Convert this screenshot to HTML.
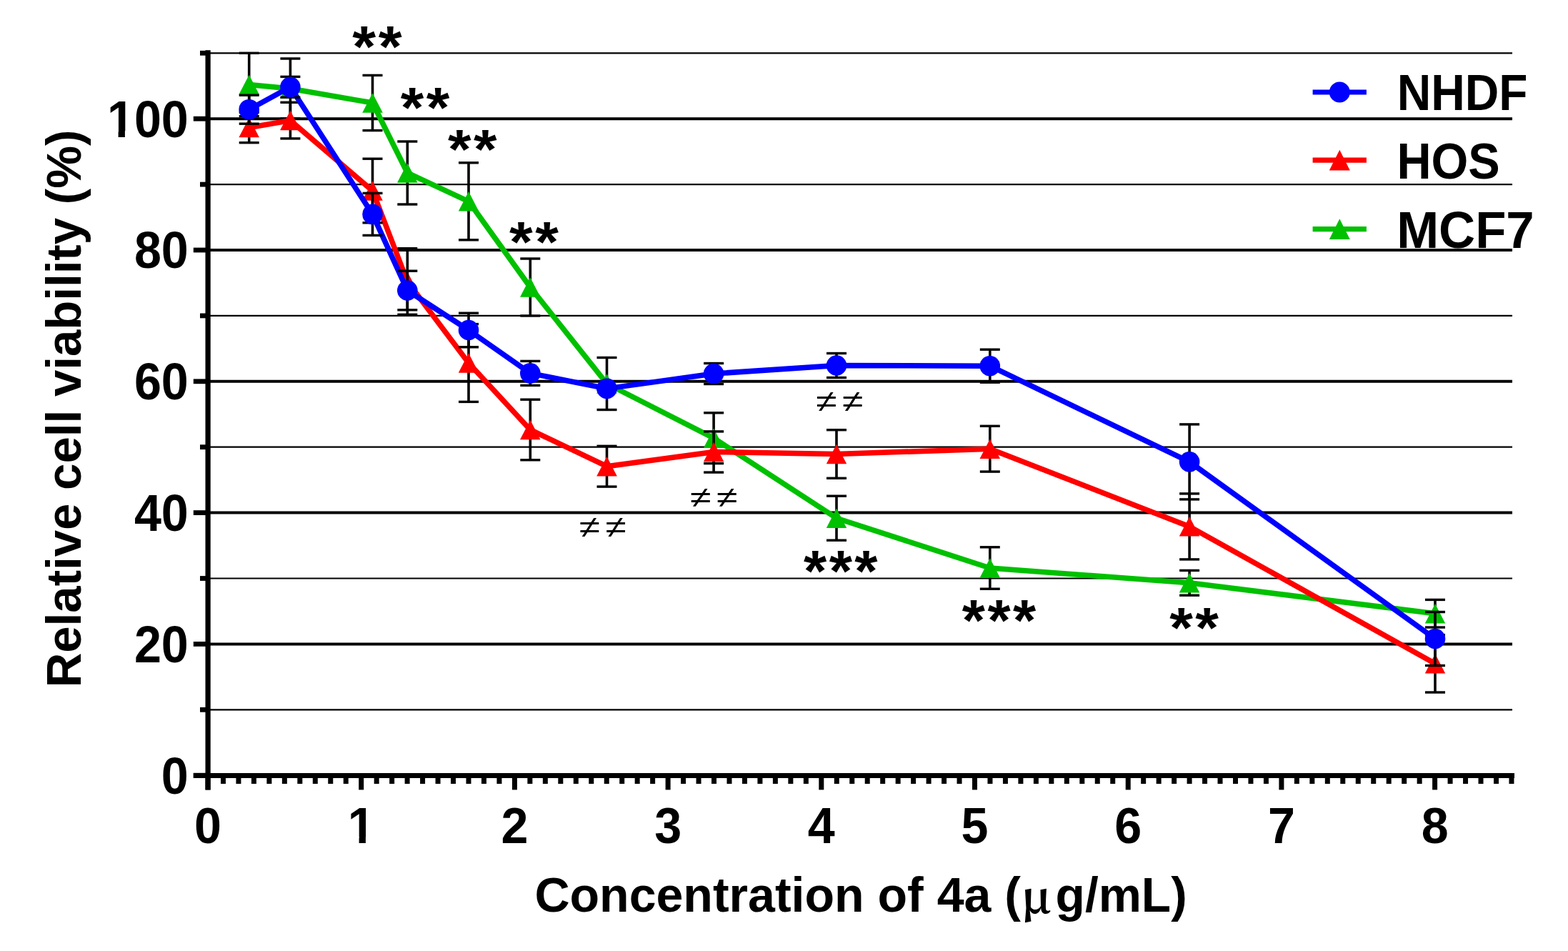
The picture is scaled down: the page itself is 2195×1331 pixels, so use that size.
<!DOCTYPE html>
<html><head><meta charset="utf-8"><title>Relative cell viability chart</title>
<style>html,body{margin:0;padding:0;background:#fff;} svg{display:block;}</style></head>
<body><svg width="2195" height="1331" viewBox="0 0 2195 1331">
<rect x="0" y="0" width="2195" height="1331" fill="#fff"/>
<line x1="291" y1="993.30" x2="2117" y2="993.30" stroke="#000" stroke-width="2.2"/>
<line x1="291" y1="901.40" x2="2117" y2="901.40" stroke="#000" stroke-width="4.0"/>
<line x1="291" y1="809.50" x2="2117" y2="809.50" stroke="#000" stroke-width="2.2"/>
<line x1="291" y1="717.60" x2="2117" y2="717.60" stroke="#000" stroke-width="4.0"/>
<line x1="291" y1="625.70" x2="2117" y2="625.70" stroke="#000" stroke-width="2.2"/>
<line x1="291" y1="533.80" x2="2117" y2="533.80" stroke="#000" stroke-width="4.0"/>
<line x1="291" y1="441.90" x2="2117" y2="441.90" stroke="#000" stroke-width="2.2"/>
<line x1="291" y1="350.00" x2="2117" y2="350.00" stroke="#000" stroke-width="4.0"/>
<line x1="291" y1="258.10" x2="2117" y2="258.10" stroke="#000" stroke-width="2.2"/>
<line x1="291" y1="166.20" x2="2117" y2="166.20" stroke="#000" stroke-width="4.0"/>
<line x1="291" y1="74.30" x2="2117" y2="74.30" stroke="#000" stroke-width="2.2"/>
<line x1="291.1" y1="70.2" x2="291.1" y2="1105.4" stroke="#000" stroke-width="7.2"/>
<line x1="270.8" y1="1085.4" x2="2120" y2="1085.4" stroke="#000" stroke-width="7"/>
<line x1="270.8" y1="1085.20" x2="291" y2="1085.20" stroke="#000" stroke-width="6.8"/>
<line x1="280.0" y1="993.30" x2="291" y2="993.30" stroke="#000" stroke-width="6.8"/>
<line x1="270.8" y1="901.40" x2="291" y2="901.40" stroke="#000" stroke-width="6.8"/>
<line x1="280.0" y1="809.50" x2="291" y2="809.50" stroke="#000" stroke-width="6.8"/>
<line x1="270.8" y1="717.60" x2="291" y2="717.60" stroke="#000" stroke-width="6.8"/>
<line x1="280.0" y1="625.70" x2="291" y2="625.70" stroke="#000" stroke-width="6.8"/>
<line x1="270.8" y1="533.80" x2="291" y2="533.80" stroke="#000" stroke-width="6.8"/>
<line x1="280.0" y1="441.90" x2="291" y2="441.90" stroke="#000" stroke-width="6.8"/>
<line x1="270.8" y1="350.00" x2="291" y2="350.00" stroke="#000" stroke-width="6.8"/>
<line x1="280.0" y1="258.10" x2="291" y2="258.10" stroke="#000" stroke-width="6.8"/>
<line x1="270.8" y1="166.20" x2="291" y2="166.20" stroke="#000" stroke-width="6.8"/>
<line x1="280.0" y1="74.30" x2="291" y2="74.30" stroke="#000" stroke-width="6.8"/>
<line x1="291.00" y1="1085" x2="291.00" y2="1105.4" stroke="#000" stroke-width="7"/>
<line x1="312.47" y1="1085" x2="312.47" y2="1097.0" stroke="#000" stroke-width="7"/>
<line x1="333.94" y1="1085" x2="333.94" y2="1097.0" stroke="#000" stroke-width="7"/>
<line x1="355.41" y1="1085" x2="355.41" y2="1097.0" stroke="#000" stroke-width="7"/>
<line x1="376.88" y1="1085" x2="376.88" y2="1097.0" stroke="#000" stroke-width="7"/>
<line x1="398.35" y1="1085" x2="398.35" y2="1097.0" stroke="#000" stroke-width="7"/>
<line x1="419.82" y1="1085" x2="419.82" y2="1097.0" stroke="#000" stroke-width="7"/>
<line x1="441.29" y1="1085" x2="441.29" y2="1097.0" stroke="#000" stroke-width="7"/>
<line x1="462.76" y1="1085" x2="462.76" y2="1097.0" stroke="#000" stroke-width="7"/>
<line x1="484.23" y1="1085" x2="484.23" y2="1097.0" stroke="#000" stroke-width="7"/>
<line x1="505.70" y1="1085" x2="505.70" y2="1105.4" stroke="#000" stroke-width="7"/>
<line x1="527.17" y1="1085" x2="527.17" y2="1097.0" stroke="#000" stroke-width="7"/>
<line x1="548.64" y1="1085" x2="548.64" y2="1097.0" stroke="#000" stroke-width="7"/>
<line x1="570.11" y1="1085" x2="570.11" y2="1097.0" stroke="#000" stroke-width="7"/>
<line x1="591.58" y1="1085" x2="591.58" y2="1097.0" stroke="#000" stroke-width="7"/>
<line x1="613.05" y1="1085" x2="613.05" y2="1097.0" stroke="#000" stroke-width="7"/>
<line x1="634.52" y1="1085" x2="634.52" y2="1097.0" stroke="#000" stroke-width="7"/>
<line x1="655.99" y1="1085" x2="655.99" y2="1097.0" stroke="#000" stroke-width="7"/>
<line x1="677.46" y1="1085" x2="677.46" y2="1097.0" stroke="#000" stroke-width="7"/>
<line x1="698.93" y1="1085" x2="698.93" y2="1097.0" stroke="#000" stroke-width="7"/>
<line x1="720.40" y1="1085" x2="720.40" y2="1105.4" stroke="#000" stroke-width="7"/>
<line x1="741.87" y1="1085" x2="741.87" y2="1097.0" stroke="#000" stroke-width="7"/>
<line x1="763.34" y1="1085" x2="763.34" y2="1097.0" stroke="#000" stroke-width="7"/>
<line x1="784.81" y1="1085" x2="784.81" y2="1097.0" stroke="#000" stroke-width="7"/>
<line x1="806.28" y1="1085" x2="806.28" y2="1097.0" stroke="#000" stroke-width="7"/>
<line x1="827.75" y1="1085" x2="827.75" y2="1097.0" stroke="#000" stroke-width="7"/>
<line x1="849.22" y1="1085" x2="849.22" y2="1097.0" stroke="#000" stroke-width="7"/>
<line x1="870.69" y1="1085" x2="870.69" y2="1097.0" stroke="#000" stroke-width="7"/>
<line x1="892.16" y1="1085" x2="892.16" y2="1097.0" stroke="#000" stroke-width="7"/>
<line x1="913.63" y1="1085" x2="913.63" y2="1097.0" stroke="#000" stroke-width="7"/>
<line x1="935.10" y1="1085" x2="935.10" y2="1105.4" stroke="#000" stroke-width="7"/>
<line x1="956.57" y1="1085" x2="956.57" y2="1097.0" stroke="#000" stroke-width="7"/>
<line x1="978.04" y1="1085" x2="978.04" y2="1097.0" stroke="#000" stroke-width="7"/>
<line x1="999.51" y1="1085" x2="999.51" y2="1097.0" stroke="#000" stroke-width="7"/>
<line x1="1020.98" y1="1085" x2="1020.98" y2="1097.0" stroke="#000" stroke-width="7"/>
<line x1="1042.45" y1="1085" x2="1042.45" y2="1097.0" stroke="#000" stroke-width="7"/>
<line x1="1063.92" y1="1085" x2="1063.92" y2="1097.0" stroke="#000" stroke-width="7"/>
<line x1="1085.39" y1="1085" x2="1085.39" y2="1097.0" stroke="#000" stroke-width="7"/>
<line x1="1106.86" y1="1085" x2="1106.86" y2="1097.0" stroke="#000" stroke-width="7"/>
<line x1="1128.33" y1="1085" x2="1128.33" y2="1097.0" stroke="#000" stroke-width="7"/>
<line x1="1149.80" y1="1085" x2="1149.80" y2="1105.4" stroke="#000" stroke-width="7"/>
<line x1="1171.27" y1="1085" x2="1171.27" y2="1097.0" stroke="#000" stroke-width="7"/>
<line x1="1192.74" y1="1085" x2="1192.74" y2="1097.0" stroke="#000" stroke-width="7"/>
<line x1="1214.21" y1="1085" x2="1214.21" y2="1097.0" stroke="#000" stroke-width="7"/>
<line x1="1235.68" y1="1085" x2="1235.68" y2="1097.0" stroke="#000" stroke-width="7"/>
<line x1="1257.15" y1="1085" x2="1257.15" y2="1097.0" stroke="#000" stroke-width="7"/>
<line x1="1278.62" y1="1085" x2="1278.62" y2="1097.0" stroke="#000" stroke-width="7"/>
<line x1="1300.09" y1="1085" x2="1300.09" y2="1097.0" stroke="#000" stroke-width="7"/>
<line x1="1321.56" y1="1085" x2="1321.56" y2="1097.0" stroke="#000" stroke-width="7"/>
<line x1="1343.03" y1="1085" x2="1343.03" y2="1097.0" stroke="#000" stroke-width="7"/>
<line x1="1364.50" y1="1085" x2="1364.50" y2="1105.4" stroke="#000" stroke-width="7"/>
<line x1="1385.97" y1="1085" x2="1385.97" y2="1097.0" stroke="#000" stroke-width="7"/>
<line x1="1407.44" y1="1085" x2="1407.44" y2="1097.0" stroke="#000" stroke-width="7"/>
<line x1="1428.91" y1="1085" x2="1428.91" y2="1097.0" stroke="#000" stroke-width="7"/>
<line x1="1450.38" y1="1085" x2="1450.38" y2="1097.0" stroke="#000" stroke-width="7"/>
<line x1="1471.85" y1="1085" x2="1471.85" y2="1097.0" stroke="#000" stroke-width="7"/>
<line x1="1493.32" y1="1085" x2="1493.32" y2="1097.0" stroke="#000" stroke-width="7"/>
<line x1="1514.79" y1="1085" x2="1514.79" y2="1097.0" stroke="#000" stroke-width="7"/>
<line x1="1536.26" y1="1085" x2="1536.26" y2="1097.0" stroke="#000" stroke-width="7"/>
<line x1="1557.73" y1="1085" x2="1557.73" y2="1097.0" stroke="#000" stroke-width="7"/>
<line x1="1579.20" y1="1085" x2="1579.20" y2="1105.4" stroke="#000" stroke-width="7"/>
<line x1="1600.67" y1="1085" x2="1600.67" y2="1097.0" stroke="#000" stroke-width="7"/>
<line x1="1622.14" y1="1085" x2="1622.14" y2="1097.0" stroke="#000" stroke-width="7"/>
<line x1="1643.61" y1="1085" x2="1643.61" y2="1097.0" stroke="#000" stroke-width="7"/>
<line x1="1665.08" y1="1085" x2="1665.08" y2="1097.0" stroke="#000" stroke-width="7"/>
<line x1="1686.55" y1="1085" x2="1686.55" y2="1097.0" stroke="#000" stroke-width="7"/>
<line x1="1708.02" y1="1085" x2="1708.02" y2="1097.0" stroke="#000" stroke-width="7"/>
<line x1="1729.49" y1="1085" x2="1729.49" y2="1097.0" stroke="#000" stroke-width="7"/>
<line x1="1750.96" y1="1085" x2="1750.96" y2="1097.0" stroke="#000" stroke-width="7"/>
<line x1="1772.43" y1="1085" x2="1772.43" y2="1097.0" stroke="#000" stroke-width="7"/>
<line x1="1793.90" y1="1085" x2="1793.90" y2="1105.4" stroke="#000" stroke-width="7"/>
<line x1="1815.37" y1="1085" x2="1815.37" y2="1097.0" stroke="#000" stroke-width="7"/>
<line x1="1836.84" y1="1085" x2="1836.84" y2="1097.0" stroke="#000" stroke-width="7"/>
<line x1="1858.31" y1="1085" x2="1858.31" y2="1097.0" stroke="#000" stroke-width="7"/>
<line x1="1879.78" y1="1085" x2="1879.78" y2="1097.0" stroke="#000" stroke-width="7"/>
<line x1="1901.25" y1="1085" x2="1901.25" y2="1097.0" stroke="#000" stroke-width="7"/>
<line x1="1922.72" y1="1085" x2="1922.72" y2="1097.0" stroke="#000" stroke-width="7"/>
<line x1="1944.19" y1="1085" x2="1944.19" y2="1097.0" stroke="#000" stroke-width="7"/>
<line x1="1965.66" y1="1085" x2="1965.66" y2="1097.0" stroke="#000" stroke-width="7"/>
<line x1="1987.13" y1="1085" x2="1987.13" y2="1097.0" stroke="#000" stroke-width="7"/>
<line x1="2008.60" y1="1085" x2="2008.60" y2="1105.4" stroke="#000" stroke-width="7"/>
<line x1="2030.07" y1="1085" x2="2030.07" y2="1097.0" stroke="#000" stroke-width="7"/>
<line x1="2051.54" y1="1085" x2="2051.54" y2="1097.0" stroke="#000" stroke-width="7"/>
<line x1="2073.01" y1="1085" x2="2073.01" y2="1097.0" stroke="#000" stroke-width="7"/>
<line x1="2094.48" y1="1085" x2="2094.48" y2="1097.0" stroke="#000" stroke-width="7"/>
<line x1="2115.95" y1="1085" x2="2115.95" y2="1097.0" stroke="#000" stroke-width="7"/>
<polyline points="348.7,118.5 406.4,124.0 521.5,144.0 570.3,242.0 656.0,281.8 742.3,402.0 849.5,537.0 999.1,613.2 1171.0,725.2 1385.8,795.0 1665.1,815.8 2009.0,858.7" fill="none" stroke="#00C000" stroke-width="7.5" stroke-linejoin="round"/>
<line x1="348.7" y1="74.3" x2="348.7" y2="162.7" stroke="#000" stroke-width="3.6"/>
<line x1="334.7" y1="74.3" x2="362.7" y2="74.3" stroke="#000" stroke-width="3.4"/>
<line x1="334.7" y1="162.7" x2="362.7" y2="162.7" stroke="#000" stroke-width="3.4"/>
<line x1="406.4" y1="82.0" x2="406.4" y2="166.0" stroke="#000" stroke-width="3.6"/>
<line x1="392.4" y1="82.0" x2="420.4" y2="82.0" stroke="#000" stroke-width="3.4"/>
<line x1="392.4" y1="166.0" x2="420.4" y2="166.0" stroke="#000" stroke-width="3.4"/>
<line x1="521.5" y1="105.4" x2="521.5" y2="182.6" stroke="#000" stroke-width="3.6"/>
<line x1="507.5" y1="105.4" x2="535.5" y2="105.4" stroke="#000" stroke-width="3.4"/>
<line x1="507.5" y1="182.6" x2="535.5" y2="182.6" stroke="#000" stroke-width="3.4"/>
<line x1="570.3" y1="198.0" x2="570.3" y2="286.0" stroke="#000" stroke-width="3.6"/>
<line x1="556.3" y1="198.0" x2="584.3" y2="198.0" stroke="#000" stroke-width="3.4"/>
<line x1="556.3" y1="286.0" x2="584.3" y2="286.0" stroke="#000" stroke-width="3.4"/>
<line x1="656.0" y1="227.8" x2="656.0" y2="335.8" stroke="#000" stroke-width="3.6"/>
<line x1="642.0" y1="227.8" x2="670.0" y2="227.8" stroke="#000" stroke-width="3.4"/>
<line x1="642.0" y1="335.8" x2="670.0" y2="335.8" stroke="#000" stroke-width="3.4"/>
<line x1="742.3" y1="362.0" x2="742.3" y2="442.0" stroke="#000" stroke-width="3.6"/>
<line x1="728.3" y1="362.0" x2="756.3" y2="362.0" stroke="#000" stroke-width="3.4"/>
<line x1="728.3" y1="442.0" x2="756.3" y2="442.0" stroke="#000" stroke-width="3.4"/>
<line x1="849.5" y1="500.5" x2="849.5" y2="573.5" stroke="#000" stroke-width="3.6"/>
<line x1="835.5" y1="500.5" x2="863.5" y2="500.5" stroke="#000" stroke-width="3.4"/>
<line x1="835.5" y1="573.5" x2="863.5" y2="573.5" stroke="#000" stroke-width="3.4"/>
<line x1="999.1" y1="577.8" x2="999.1" y2="648.6" stroke="#000" stroke-width="3.6"/>
<line x1="985.1" y1="577.8" x2="1013.1" y2="577.8" stroke="#000" stroke-width="3.4"/>
<line x1="985.1" y1="648.6" x2="1013.1" y2="648.6" stroke="#000" stroke-width="3.4"/>
<line x1="1171.0" y1="694.2" x2="1171.0" y2="756.2" stroke="#000" stroke-width="3.6"/>
<line x1="1157.0" y1="694.2" x2="1185.0" y2="694.2" stroke="#000" stroke-width="3.4"/>
<line x1="1157.0" y1="756.2" x2="1185.0" y2="756.2" stroke="#000" stroke-width="3.4"/>
<line x1="1385.8" y1="765.8" x2="1385.8" y2="824.2" stroke="#000" stroke-width="3.6"/>
<line x1="1371.8" y1="765.8" x2="1399.8" y2="765.8" stroke="#000" stroke-width="3.4"/>
<line x1="1371.8" y1="824.2" x2="1399.8" y2="824.2" stroke="#000" stroke-width="3.4"/>
<line x1="1665.1" y1="798.4" x2="1665.1" y2="833.2" stroke="#000" stroke-width="3.6"/>
<line x1="1651.1" y1="798.4" x2="1679.1" y2="798.4" stroke="#000" stroke-width="3.4"/>
<line x1="1651.1" y1="833.2" x2="1679.1" y2="833.2" stroke="#000" stroke-width="3.4"/>
<line x1="2009.0" y1="839.4" x2="2009.0" y2="878.0" stroke="#000" stroke-width="3.6"/>
<line x1="1995.0" y1="839.4" x2="2023.0" y2="839.4" stroke="#000" stroke-width="3.4"/>
<line x1="1995.0" y1="878.0" x2="2023.0" y2="878.0" stroke="#000" stroke-width="3.4"/>
<polygon points="334.4,132.2 362.9,132.2 348.7,104.8" fill="#00C000"/>
<polygon points="392.1,137.8 420.6,137.8 406.4,110.2" fill="#00C000"/>
<polygon points="507.2,157.8 535.8,157.8 521.5,130.2" fill="#00C000"/>
<polygon points="556.0,255.8 584.5,255.8 570.3,228.2" fill="#00C000"/>
<polygon points="641.8,295.6 670.2,295.6 656.0,268.1" fill="#00C000"/>
<polygon points="728.0,415.8 756.5,415.8 742.3,388.2" fill="#00C000"/>
<polygon points="835.2,550.8 863.8,550.8 849.5,523.2" fill="#00C000"/>
<polygon points="984.9,627.0 1013.4,627.0 999.1,599.5" fill="#00C000"/>
<polygon points="1156.8,739.0 1185.2,739.0 1171.0,711.5" fill="#00C000"/>
<polygon points="1371.5,808.8 1400.0,808.8 1385.8,781.2" fill="#00C000"/>
<polygon points="1650.8,829.5 1679.3,829.5 1665.1,802.0" fill="#00C000"/>
<polygon points="1994.8,872.5 2023.2,872.5 2009.0,845.0" fill="#00C000"/>
<polyline points="348.7,178.5 406.4,168.6 521.5,267.0 570.3,394.0 656.0,508.0 742.3,601.5 849.5,652.7 999.1,632.5 1171.0,635.5 1385.8,628.2 1665.1,736.9 2009.0,928.8" fill="none" stroke="#FF0000" stroke-width="7.5" stroke-linejoin="round"/>
<line x1="348.7" y1="157.3" x2="348.7" y2="199.7" stroke="#000" stroke-width="3.6"/>
<line x1="334.7" y1="157.3" x2="362.7" y2="157.3" stroke="#000" stroke-width="3.4"/>
<line x1="334.7" y1="199.7" x2="362.7" y2="199.7" stroke="#000" stroke-width="3.4"/>
<line x1="406.4" y1="143.3" x2="406.4" y2="193.9" stroke="#000" stroke-width="3.6"/>
<line x1="392.4" y1="143.3" x2="420.4" y2="143.3" stroke="#000" stroke-width="3.4"/>
<line x1="392.4" y1="193.9" x2="420.4" y2="193.9" stroke="#000" stroke-width="3.4"/>
<line x1="521.5" y1="222.2" x2="521.5" y2="311.8" stroke="#000" stroke-width="3.6"/>
<line x1="507.5" y1="222.2" x2="535.5" y2="222.2" stroke="#000" stroke-width="3.4"/>
<line x1="507.5" y1="311.8" x2="535.5" y2="311.8" stroke="#000" stroke-width="3.4"/>
<line x1="570.3" y1="347.7" x2="570.3" y2="440.3" stroke="#000" stroke-width="3.6"/>
<line x1="556.3" y1="347.7" x2="584.3" y2="347.7" stroke="#000" stroke-width="3.4"/>
<line x1="556.3" y1="440.3" x2="584.3" y2="440.3" stroke="#000" stroke-width="3.4"/>
<line x1="656.0" y1="453.6" x2="656.0" y2="562.4" stroke="#000" stroke-width="3.6"/>
<line x1="642.0" y1="453.6" x2="670.0" y2="453.6" stroke="#000" stroke-width="3.4"/>
<line x1="642.0" y1="562.4" x2="670.0" y2="562.4" stroke="#000" stroke-width="3.4"/>
<line x1="742.3" y1="559.2" x2="742.3" y2="643.8" stroke="#000" stroke-width="3.6"/>
<line x1="728.3" y1="559.2" x2="756.3" y2="559.2" stroke="#000" stroke-width="3.4"/>
<line x1="728.3" y1="643.8" x2="756.3" y2="643.8" stroke="#000" stroke-width="3.4"/>
<line x1="849.5" y1="624.3" x2="849.5" y2="681.1" stroke="#000" stroke-width="3.6"/>
<line x1="835.5" y1="624.3" x2="863.5" y2="624.3" stroke="#000" stroke-width="3.4"/>
<line x1="835.5" y1="681.1" x2="863.5" y2="681.1" stroke="#000" stroke-width="3.4"/>
<line x1="999.1" y1="603.9" x2="999.1" y2="661.1" stroke="#000" stroke-width="3.6"/>
<line x1="985.1" y1="603.9" x2="1013.1" y2="603.9" stroke="#000" stroke-width="3.4"/>
<line x1="985.1" y1="661.1" x2="1013.1" y2="661.1" stroke="#000" stroke-width="3.4"/>
<line x1="1171.0" y1="601.7" x2="1171.0" y2="669.3" stroke="#000" stroke-width="3.6"/>
<line x1="1157.0" y1="601.7" x2="1185.0" y2="601.7" stroke="#000" stroke-width="3.4"/>
<line x1="1157.0" y1="669.3" x2="1185.0" y2="669.3" stroke="#000" stroke-width="3.4"/>
<line x1="1385.8" y1="596.3" x2="1385.8" y2="660.1" stroke="#000" stroke-width="3.6"/>
<line x1="1371.8" y1="596.3" x2="1399.8" y2="596.3" stroke="#000" stroke-width="3.4"/>
<line x1="1371.8" y1="660.1" x2="1399.8" y2="660.1" stroke="#000" stroke-width="3.4"/>
<line x1="1665.1" y1="690.9" x2="1665.1" y2="782.9" stroke="#000" stroke-width="3.6"/>
<line x1="1651.1" y1="690.9" x2="1679.1" y2="690.9" stroke="#000" stroke-width="3.4"/>
<line x1="1651.1" y1="782.9" x2="1679.1" y2="782.9" stroke="#000" stroke-width="3.4"/>
<line x1="2009.0" y1="888.6" x2="2009.0" y2="969.0" stroke="#000" stroke-width="3.6"/>
<line x1="1995.0" y1="888.6" x2="2023.0" y2="888.6" stroke="#000" stroke-width="3.4"/>
<line x1="1995.0" y1="969.0" x2="2023.0" y2="969.0" stroke="#000" stroke-width="3.4"/>
<polygon points="334.4,192.2 362.9,192.2 348.7,164.8" fill="#FF0000"/>
<polygon points="392.1,182.3 420.6,182.3 406.4,154.8" fill="#FF0000"/>
<polygon points="507.2,280.8 535.8,280.8 521.5,253.2" fill="#FF0000"/>
<polygon points="556.0,407.8 584.5,407.8 570.3,380.2" fill="#FF0000"/>
<polygon points="641.8,521.8 670.2,521.8 656.0,494.2" fill="#FF0000"/>
<polygon points="728.0,615.2 756.5,615.2 742.3,587.8" fill="#FF0000"/>
<polygon points="835.2,666.5 863.8,666.5 849.5,639.0" fill="#FF0000"/>
<polygon points="984.9,646.2 1013.4,646.2 999.1,618.8" fill="#FF0000"/>
<polygon points="1156.8,649.2 1185.2,649.2 1171.0,621.8" fill="#FF0000"/>
<polygon points="1371.5,642.0 1400.0,642.0 1385.8,614.5" fill="#FF0000"/>
<polygon points="1650.8,750.6 1679.3,750.6 1665.1,723.1" fill="#FF0000"/>
<polygon points="1994.8,942.5 2023.2,942.5 2009.0,915.0" fill="#FF0000"/>
<polyline points="348.7,153.2 406.4,121.8 521.5,299.9 570.3,406.5 656.0,462.0 742.3,522.4 849.5,543.9 999.1,523.0 1171.0,511.5 1385.8,512.2 1665.1,646.4 2009.0,894.0" fill="none" stroke="#0000FF" stroke-width="7.5" stroke-linejoin="round"/>
<line x1="348.7" y1="133.2" x2="348.7" y2="173.2" stroke="#000" stroke-width="3.6"/>
<line x1="334.7" y1="133.2" x2="362.7" y2="133.2" stroke="#000" stroke-width="3.4"/>
<line x1="334.7" y1="173.2" x2="362.7" y2="173.2" stroke="#000" stroke-width="3.4"/>
<line x1="406.4" y1="107.4" x2="406.4" y2="136.2" stroke="#000" stroke-width="3.6"/>
<line x1="392.4" y1="107.4" x2="420.4" y2="107.4" stroke="#000" stroke-width="3.4"/>
<line x1="392.4" y1="136.2" x2="420.4" y2="136.2" stroke="#000" stroke-width="3.4"/>
<line x1="521.5" y1="270.4" x2="521.5" y2="329.4" stroke="#000" stroke-width="3.6"/>
<line x1="507.5" y1="270.4" x2="535.5" y2="270.4" stroke="#000" stroke-width="3.4"/>
<line x1="507.5" y1="329.4" x2="535.5" y2="329.4" stroke="#000" stroke-width="3.4"/>
<line x1="570.3" y1="379.2" x2="570.3" y2="433.8" stroke="#000" stroke-width="3.6"/>
<line x1="556.3" y1="379.2" x2="584.3" y2="379.2" stroke="#000" stroke-width="3.4"/>
<line x1="556.3" y1="433.8" x2="584.3" y2="433.8" stroke="#000" stroke-width="3.4"/>
<line x1="656.0" y1="438.2" x2="656.0" y2="485.8" stroke="#000" stroke-width="3.6"/>
<line x1="642.0" y1="438.2" x2="670.0" y2="438.2" stroke="#000" stroke-width="3.4"/>
<line x1="642.0" y1="485.8" x2="670.0" y2="485.8" stroke="#000" stroke-width="3.4"/>
<line x1="742.3" y1="505.4" x2="742.3" y2="539.4" stroke="#000" stroke-width="3.6"/>
<line x1="728.3" y1="505.4" x2="756.3" y2="505.4" stroke="#000" stroke-width="3.4"/>
<line x1="728.3" y1="539.4" x2="756.3" y2="539.4" stroke="#000" stroke-width="3.4"/>
<line x1="849.5" y1="542.4" x2="849.5" y2="545.4" stroke="#000" stroke-width="3.6"/>
<line x1="835.5" y1="542.4" x2="863.5" y2="542.4" stroke="#000" stroke-width="3.4"/>
<line x1="835.5" y1="545.4" x2="863.5" y2="545.4" stroke="#000" stroke-width="3.4"/>
<line x1="999.1" y1="508.5" x2="999.1" y2="537.5" stroke="#000" stroke-width="3.6"/>
<line x1="985.1" y1="508.5" x2="1013.1" y2="508.5" stroke="#000" stroke-width="3.4"/>
<line x1="985.1" y1="537.5" x2="1013.1" y2="537.5" stroke="#000" stroke-width="3.4"/>
<line x1="1171.0" y1="494.5" x2="1171.0" y2="528.5" stroke="#000" stroke-width="3.6"/>
<line x1="1157.0" y1="494.5" x2="1185.0" y2="494.5" stroke="#000" stroke-width="3.4"/>
<line x1="1157.0" y1="528.5" x2="1185.0" y2="528.5" stroke="#000" stroke-width="3.4"/>
<line x1="1385.8" y1="489.2" x2="1385.8" y2="535.2" stroke="#000" stroke-width="3.6"/>
<line x1="1371.8" y1="489.2" x2="1399.8" y2="489.2" stroke="#000" stroke-width="3.4"/>
<line x1="1371.8" y1="535.2" x2="1399.8" y2="535.2" stroke="#000" stroke-width="3.4"/>
<line x1="1665.1" y1="593.9" x2="1665.1" y2="698.9" stroke="#000" stroke-width="3.6"/>
<line x1="1651.1" y1="593.9" x2="1679.1" y2="593.9" stroke="#000" stroke-width="3.4"/>
<line x1="1651.1" y1="698.9" x2="1679.1" y2="698.9" stroke="#000" stroke-width="3.4"/>
<line x1="2009.0" y1="856.5" x2="2009.0" y2="931.5" stroke="#000" stroke-width="3.6"/>
<line x1="1995.0" y1="856.5" x2="2023.0" y2="856.5" stroke="#000" stroke-width="3.4"/>
<line x1="1995.0" y1="931.5" x2="2023.0" y2="931.5" stroke="#000" stroke-width="3.4"/>
<circle cx="348.7" cy="153.2" r="14.3" fill="#0000FF"/>
<circle cx="406.4" cy="121.8" r="14.3" fill="#0000FF"/>
<circle cx="521.5" cy="299.9" r="14.3" fill="#0000FF"/>
<circle cx="570.3" cy="406.5" r="14.3" fill="#0000FF"/>
<circle cx="656.0" cy="462.0" r="14.3" fill="#0000FF"/>
<circle cx="742.3" cy="522.4" r="14.3" fill="#0000FF"/>
<circle cx="849.5" cy="543.9" r="14.3" fill="#0000FF"/>
<circle cx="999.1" cy="523.0" r="14.3" fill="#0000FF"/>
<circle cx="1171.0" cy="511.5" r="14.3" fill="#0000FF"/>
<circle cx="1385.8" cy="512.2" r="14.3" fill="#0000FF"/>
<circle cx="1665.1" cy="646.4" r="14.3" fill="#0000FF"/>
<circle cx="2009.0" cy="894.0" r="14.3" fill="#0000FF"/>
<line x1="1837.6" y1="129.0" x2="1912.9" y2="129.0" stroke="#0000FF" stroke-width="7.2"/>
<circle cx="1875.3" cy="129.0" r="14.5" fill="#0000FF"/>
<line x1="1837.6" y1="224.2" x2="1912.9" y2="224.2" stroke="#FF0000" stroke-width="7.2"/>
<polygon points="1860.8,238.6 1889.8,238.6 1875.3,209.8" fill="#FF0000"/>
<line x1="1837.6" y1="320.7" x2="1912.9" y2="320.7" stroke="#00C000" stroke-width="7.2"/>
<polygon points="1860.8,335.1 1889.8,335.1 1875.3,306.3" fill="#00C000"/>
<g font-family="'Liberation Sans', Arial, sans-serif" font-weight="bold" font-size="70">
<text text-anchor="end" transform="matrix(0.975 0 0 1.02 263.8 1110.50)">0</text>
<text text-anchor="end" transform="matrix(0.975 0 0 1.02 263.8 926.70)">20</text>
<text text-anchor="end" transform="matrix(0.975 0 0 1.02 263.8 742.90)">40</text>
<text text-anchor="end" transform="matrix(0.975 0 0 1.02 263.8 559.10)">60</text>
<text text-anchor="end" transform="matrix(0.975 0 0 1.02 263.8 375.30)">80</text>
<text text-anchor="end" transform="matrix(0.975 0 0 1.02 263.8 191.50)">100</text>
<text text-anchor="middle" transform="matrix(0.975 0 0 1.0 291.00 1180.0)">0</text>
<text text-anchor="middle" transform="matrix(0.975 0 0 1.0 505.70 1180.0)">1</text>
<text text-anchor="middle" transform="matrix(0.975 0 0 1.0 720.40 1180.0)">2</text>
<text text-anchor="middle" transform="matrix(0.975 0 0 1.0 935.10 1180.0)">3</text>
<text text-anchor="middle" transform="matrix(0.975 0 0 1.0 1149.80 1180.0)">4</text>
<text text-anchor="middle" transform="matrix(0.975 0 0 1.0 1364.50 1180.0)">5</text>
<text text-anchor="middle" transform="matrix(0.975 0 0 1.0 1579.20 1180.0)">6</text>
<text text-anchor="middle" transform="matrix(0.975 0 0 1.0 1793.90 1180.0)">7</text>
<text text-anchor="middle" transform="matrix(0.975 0 0 1.0 2008.60 1180.0)">8</text>
</g>
<rect x="152" y="183.3" width="13.6" height="10.2" fill="#fff"/>
<rect x="174.9" y="183.3" width="12.1" height="10.2" fill="#fff"/>
<rect x="488" y="1171.3" width="14.6" height="10.7" fill="#fff"/>
<rect x="511.9" y="1171.3" width="14.1" height="10.7" fill="#fff"/>
<text transform="matrix(0.94011 0 0 1.00816 1955.799 153.900)" font-family="'Liberation Sans', Arial, sans-serif" font-weight="bold" font-size="70" letter-spacing="0.000">NHDF</text>
<text transform="matrix(0.95139 0 0 1.01224 1955.443 250.200)" font-family="'Liberation Sans', Arial, sans-serif" font-weight="bold" font-size="70" letter-spacing="0.000">HOS</text>
<text transform="matrix(1.01044 0 0 1.03469 1955.148 347.100)" font-family="'Liberation Sans', Arial, sans-serif" font-weight="bold" font-size="70" letter-spacing="0.000">MCF7</text>
<text transform="matrix(0.97231 0 0 0.97273 748.383 1276.409)" font-family="'Liberation Sans', Arial, sans-serif" font-weight="bold" font-size="70" letter-spacing="0.000">Concentration of 4a (</text>
<text transform="matrix(0.91538 0 0 0.87358 1429.608 1277.896)" font-family="'Noto Serif CJK SC', 'Liberation Serif', serif" font-weight="bold" font-size="70" letter-spacing="0.000">μ</text>
<text transform="matrix(0.96630 0 0 0.97273 1477.601 1276.409)" font-family="'Liberation Sans', Arial, sans-serif" font-weight="bold" font-size="70" letter-spacing="0.000">g/mL)</text>
<text transform="matrix(0 -0.96012 0.98939 0 112.859 962.301)" font-family="'Liberation Sans', Arial, sans-serif" font-weight="bold" font-size="70">Relative cell viability (%)</text>
<text transform="matrix(1.05625 0 0 1.01667 493.244 93.217)" font-family="'Liberation Sans', Arial, sans-serif" font-weight="bold" font-size="80" letter-spacing="3.328">**</text>
<text transform="matrix(1.04531 0 0 1.00333 560.855 178.083)" font-family="'Liberation Sans', Arial, sans-serif" font-weight="bold" font-size="80" letter-spacing="3.328">**</text>
<text transform="matrix(1.04531 0 0 0.97667 626.955 236.017)" font-family="'Liberation Sans', Arial, sans-serif" font-weight="bold" font-size="80" letter-spacing="3.328">**</text>
<text transform="matrix(1.05000 0 0 1.00333 713.050 366.083)" font-family="'Liberation Sans', Arial, sans-serif" font-weight="bold" font-size="80" letter-spacing="3.328">**</text>
<text transform="matrix(1.03535 0 0 1.02000 1124.965 827.300)" font-family="'Liberation Sans', Arial, sans-serif" font-weight="bold" font-size="80" letter-spacing="3.328">***</text>
<text transform="matrix(1.03333 0 0 1.02000 1346.867 896.200)" font-family="'Liberation Sans', Arial, sans-serif" font-weight="bold" font-size="80" letter-spacing="3.328">***</text>
<text transform="matrix(1.05000 0 0 0.99333 1637.150 905.833)" font-family="'Liberation Sans', Arial, sans-serif" font-weight="bold" font-size="80" letter-spacing="3.328">**</text>
<text transform="matrix(1.06379 0 0 0.84839 810.772 751.948)" font-family="'Liberation Sans', Arial, sans-serif" font-weight="normal" font-size="50" letter-spacing="7.000">≠≠</text>
<text transform="matrix(1.07414 0 0 0.82258 966.252 709.523)" font-family="'Liberation Sans', Arial, sans-serif" font-weight="normal" font-size="50" letter-spacing="7.000">≠≠</text>
<text transform="matrix(1.06724 0 0 0.84839 1142.266 575.948)" font-family="'Liberation Sans', Arial, sans-serif" font-weight="normal" font-size="50" letter-spacing="7.000">≠≠</text>
</svg></body></html>
